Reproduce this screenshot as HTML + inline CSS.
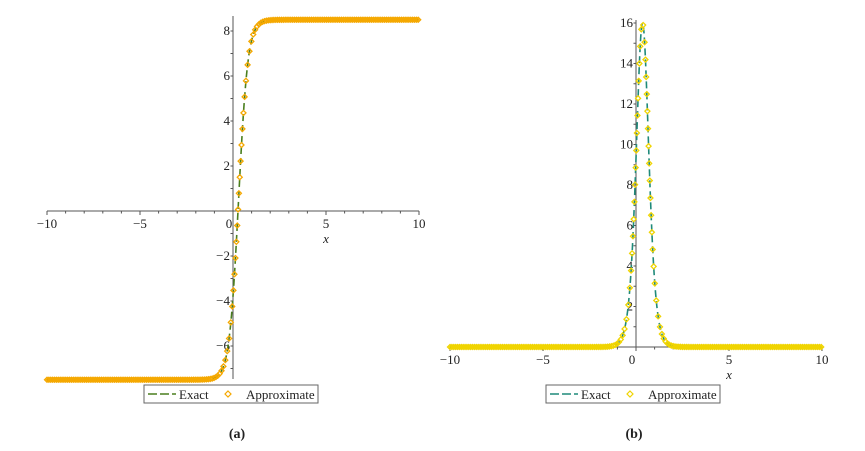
<!DOCTYPE html>
<html><head><meta charset="utf-8"><style>
body{margin:0;background:#fff;width:865px;height:446px;overflow:hidden}
text{font-family:"Liberation Serif",serif;fill:#222}
</style></head><body>
<svg id="s" width="865" height="446" xmlns="http://www.w3.org/2000/svg"></svg>
<script>
const s=document.getElementById('s');let h='';
function plot(o){
 const X=x=>o.x0+x*o.sx, Y=y=>o.y0-y*o.sy;
 h+=`<line x1="${X(-10)}" y1="${o.y0}" x2="${X(10)}" y2="${o.y0}" stroke="#555" stroke-width="1"/>`;
 h+=`<line x1="${o.x0}" y1="${o.ytop}" x2="${o.x0}" y2="${o.ybot}" stroke="#555" stroke-width="1"/>`;
 for(let i=-10;i<=10;i++){const len=i%5==0?4:2.5;h+=`<line x1="${X(i)}" y1="${o.y0}" x2="${X(i)}" y2="${o.y0+len}" stroke="#555"/>`;}
 for(const i of [-10,-5,0,5,10]){h+=`<text x="${X(i)-(i==0?4:0)}" y="${o.y0+17}" font-size="13" text-anchor="middle">${i<0?'−'+(-i):i}</text>`;}
 h+=`<text x="${X(5)}" y="${o.y0+32}" font-size="13" font-style="italic" text-anchor="middle">x</text>`;
 for(let v=o.ymin;v<=o.ymax;v+=1){h+=`<line x1="${o.x0-2.5}" y1="${Y(v)}" x2="${o.x0}" y2="${Y(v)}" stroke="#555"/>`;}
 for(const v of o.ylab){h+=`<text x="${o.x0-3}" y="${Y(v)+4}" font-size="13" text-anchor="end">${v<0?'−'+(-v):v}</text>`;}
 let d='';for(let i=0;i<=800;i++){const x=-10+i*20/800;d+=(i?'L':'M')+X(x).toFixed(2)+' '+Y(o.f(x)).toFixed(2);}
 h+=`<path d="${d}" fill="none" stroke="${o.lc}" stroke-width="1.6" stroke-dasharray="7,4"/>`;
 let lx=-99,lpx=0,lpy=0;
 for(let i=0;i<=20000;i++){const x=-10+i*0.001;const px=X(x),py=Y(o.f(x));
  if(x-lx>=0.1||Math.hypot(px-lpx,py-lpy)>=o.sp){lx=x;lpx=px;lpy=py;
  h+=`<path d="M${px} ${py-2.5}L${px+2.5} ${py}L${px} ${py+2.5}L${px-2.5} ${py}Z" fill="none" stroke="${o.mc}" stroke-width="1.3"/>`;}}
 const L=o.leg;
 h+=`<rect x="${L}" y="385" width="174" height="18" fill="#fff" stroke="#666"/>`;
 h+=`<line x1="${L+4}" y1="394" x2="${L+32}" y2="394" stroke="${o.lc}" stroke-width="1.6" stroke-dasharray="9,3"/>`;
 h+=`<text x="${L+35}" y="399" font-size="13">Exact</text>`;
 h+=`<path d="M${L+84} 391L${L+87} 394L${L+84} 397L${L+81} 394Z" fill="none" stroke="${o.mc}" stroke-width="1.2"/>`;
 h+=`<text x="${L+102}" y="399" font-size="13">Approximate</text>`;
 h+=`<text x="${o.cap}" y="438" font-size="14" font-weight="bold" text-anchor="middle">${o.c}</text>`;
}
plot({x0:233,sx:18.6,y0:211,sy:22.5,ytop:16,ybot:379,ymin:-7,ymax:8,ylab:[-6,-4,-2,2,4,6,8],sp:16,
 f:x=>0.5+8*Math.tanh(2*(x-0.3)),lc:'#4a7f1f',mc:'#f5a800',leg:144,cap:237,c:'(a)'});
plot({x0:636,sx:18.6,y0:347,sy:20.25,ytop:20,ybot:347,ymin:0,ymax:16,ylab:[2,4,6,8,10,12,14,16],sp:17,
 f:x=>{const c=Math.cosh(2.2*(x-0.35));return 16/(c*c)},lc:'#1f8a7a',mc:'#f0d400',leg:546,cap:634,c:'(b)'});
s.innerHTML=h;
</script>
</body></html>
